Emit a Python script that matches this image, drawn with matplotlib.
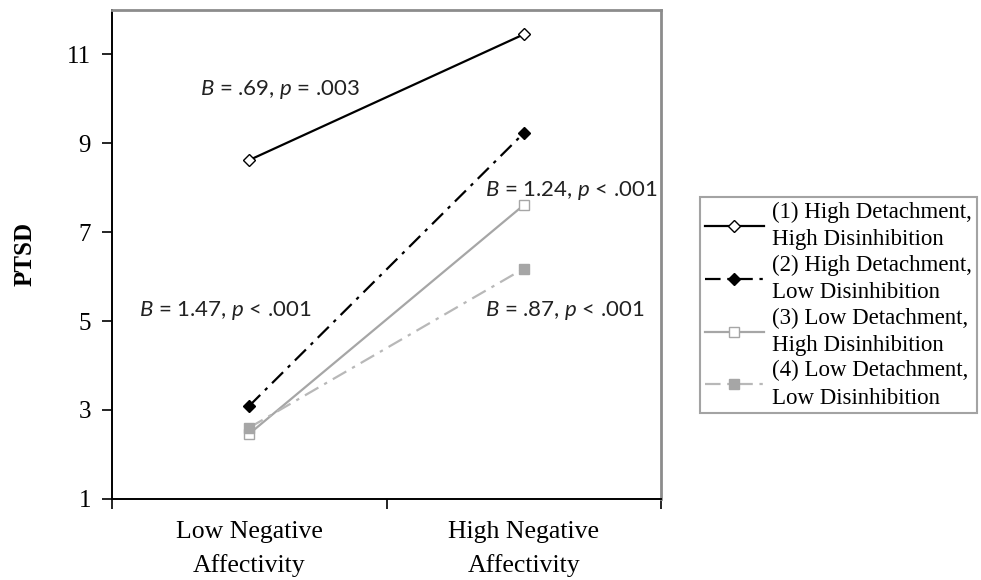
import numpy as np
import matplotlib.pyplot as plt

plt.rcParams['font.family'] = 'Liberation Serif'
plt.rcParams['mathtext.fontset'] = 'custom'
plt.rcParams['mathtext.rm'] = 'Lato'
plt.rcParams['mathtext.it'] = 'Lato:italic'

categories = ['Low Negative\nAffectivity', 'High Negative\nAffectivity']
series_labels = ['(1) High Detachment,\nHigh Disinhibition',
                 '(2) High Detachment,\nLow Disinhibition',
                 '(3) Low Detachment,\nHigh Disinhibition',
                 '(4) Low Detachment,\nLow Disinhibition']
hd_hdis = [8.62, 11.45]
hd_ldis = [3.09, 9.23]
ld_hdis = [2.46, 7.61]
ld_ldis = [2.60, 6.18]
y_ticks = [1, 3, 5, 7, 9, 11]

notes = [r'$\mathit{B}$ = .69, $\mathit{p}$ = .003',
         r'$\mathit{B}$ = 1.24, $\mathit{p}$ < .001',
         r'$\mathit{B}$ = 1.47, $\mathit{p}$ < .001',
         r'$\mathit{B}$ = .87, $\mathit{p}$ < .001']
note_pos = [(0.32, 10.2), (1.36, 7.93), (0.10, 5.24), (1.36, 5.24)]

x = np.array([0.5, 1.5])

fig = plt.figure(figsize=(9.81, 5.8), dpi=100)
ax = fig.add_axes([0.114, 0.14, 0.56, 0.843])

dashdot = (0, (7, 3, 1.5, 3))
ax.plot(x, hd_hdis, color='black', lw=1.6, marker='D', ms=6,
        mfc='white', mec='black', mew=1.0, label=series_labels[0])
ax.plot(x, hd_ldis, color='black', lw=1.6, ls=dashdot, marker='D', ms=6,
        mfc='black', mec='black', label=series_labels[1])
ax.plot(x, ld_hdis, color='#a6a6a6', lw=1.6, marker='s', ms=7,
        mfc='white', mec='#a6a6a6', mew=1.0, label=series_labels[2])
ax.plot(x, ld_ldis, color='#b8b8b8', lw=1.6, ls=dashdot, marker='s', ms=7,
        mfc='#a6a6a6', mec='#a6a6a6', label=series_labels[3])

for txt, (tx, ty) in zip(notes, note_pos):
    ax.text(tx, ty, txt, fontsize=16, va='center', ha='left', color='#222222',
            family='Lato')

ax.set_xlim(0, 2)
ax.set_ylim(1, 12)
ax.set_yticks(y_ticks)
ax.set_yticklabels([str(v) for v in y_ticks], fontsize=18)
ax.set_xticks([0, 1, 2])
ax.set_xticklabels([])
ax.set_xticks(x, minor=True)
ax.set_xticklabels(categories, minor=True, fontsize=18.5, linespacing=1.6)
ax.tick_params(axis='x', which='minor', length=0, pad=16)
ax.tick_params(axis='y', which='major', pad=8)
ax.tick_params(axis='both', which='major', direction='out', length=7, width=1.2)
ax.set_ylabel('PTSD', fontsize=18, fontweight='bold', labelpad=22)

for s in ['left', 'bottom']:
    ax.spines[s].set_linewidth(1.4)
    ax.spines[s].set_color('black')
for s in ['top', 'right']:
    ax.spines[s].set_linewidth(2)
    ax.spines[s].set_color('#8c8c8c')

leg = fig.legend(loc='upper left', bbox_to_anchor=(0.7136, 0.66),
                 fontsize=16.5, frameon=True, fancybox=False, edgecolor='#8c8c8c',
                 handlelength=2.6, handletextpad=0.35, labelspacing=0.2,
                 borderpad=0.2, borderaxespad=0)
leg.get_frame().set_linewidth(1.5)
for t in leg.get_texts():
    t.set_linespacing(1.38)

plt.savefig('out.png')
